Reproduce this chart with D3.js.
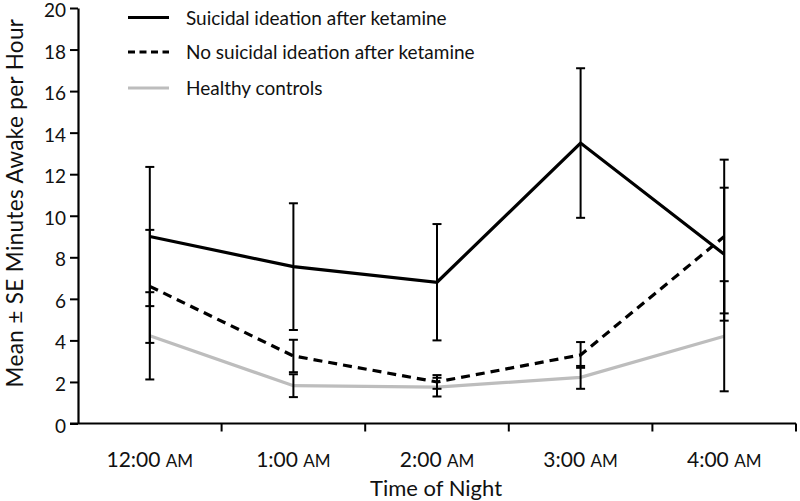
<!DOCTYPE html>
<html>
<head>
<meta charset="utf-8">
<script src="https://cdn.jsdelivr.net/npm/d3@7"></script>
<style>
  body { margin: 0; background: #fff; }
  svg { display: block; font-family: Lato, "Noto Sans", sans-serif; }
</style>
</head>
<body>
<svg id="chart" width="800" height="501"></svg>
<script>
const categories = ["12:00", "1:00", "2:00", "3:00", "4:00"];
const suffix = "AM";
const siMean = [9.0, 7.55, 6.8, 13.5, 8.15];
const siSE   = [3.35, 3.05, 2.8, 3.6, 3.2];
const noMean = [6.6, 3.25, 2.0, 3.3, 9.0];
const noSE   = [2.72, 0.78, 0.33, 0.62, 3.7];
const hcMean = [4.22, 1.82, 1.75, 2.22, 4.2];
const hcSE   = [2.1, 0.55, 0.45, 0.55, 2.65];
const seriesNames = ["Suicidal ideation after ketamine", "No suicidal ideation after ketamine", "Healthy controls"];
const yTicks = [0, 2, 4, 6, 8, 10, 12, 14, 16, 18, 20];

(function () {
const svg = d3.select("#chart");
const pLeft = 78, pRight = 796, pTop = 8, pBottom = 423.5;
const FONT = "Lato, 'Noto Sans', sans-serif";

const x = d3.scaleBand().domain(categories).range([pLeft, pRight]).padding(0);
const y = d3.scaleLinear().domain([0, 20]).range([pBottom, pTop]);

const series = [
  { name: seriesNames[0], mean: siMean, se: siSE, color: "#000", dash: null, legendDash: null },
  { name: seriesNames[1], mean: noMean, se: noSE, color: "#000", dash: "9,6", legendDash: "7,4.5" },
  { name: seriesNames[2], mean: hcMean, se: hcSE, color: "#bdbdbd", dash: null, legendDash: null }
];

// Y axis
const yAxis = d3.axisLeft(y).tickValues(yTicks).tickSize(8).tickSizeOuter(0).tickPadding(4);
const gy = svg.append("g").attr("transform", `translate(${pLeft},0)`).call(yAxis);
gy.select(".domain").attr("stroke-width", 2.2);
gy.selectAll(".tick line").attr("stroke-width", 2);
gy.selectAll(".tick text").attr("font-size", 19).attr("fill", "#111").attr("font-family", FONT).attr("dy", "0.45em");

// X axis
const gx = svg.append("g").attr("transform", `translate(0,${pBottom})`);
gx.append("line").attr("x1", pLeft - 8).attr("x2", pRight).attr("y1", 0).attr("y2", 0)
  .attr("stroke", "#000").attr("stroke-width", 2.2);
const bounds = categories.map(c => x(c) + x.bandwidth());
gx.selectAll(".btick").data(bounds).join("line")
  .attr("x1", d => d).attr("x2", d => d).attr("y1", 0).attr("y2", 8)
  .attr("stroke", "#000").attr("stroke-width", 2);
const xAxis = d3.axisBottom(x).tickSize(0).tickPadding(29);
const gxl = svg.append("g").attr("transform", `translate(0,${pBottom})`).call(xAxis);
gxl.select(".domain").remove();
gxl.selectAll(".tick text").each(function(d) {
  const t = d3.select(this);
  t.text(null).attr("font-size", 21).attr("fill", "#111").attr("font-family", FONT);
  t.append("tspan").text(d + " ");
  t.append("tspan").attr("font-size", 17).text(suffix);
});

// Axis titles
svg.append("text").attr("x", 436).attr("y", 496)
  .attr("text-anchor", "middle").attr("font-size", 22).attr("fill", "#111").text("Time of Night");
svg.append("text").attr("transform", `translate(22.5,203) rotate(-90)`)
  .attr("text-anchor", "middle").attr("font-size", 22.5).attr("letter-spacing", 0.35).attr("fill", "#111")
  .text("Mean \u00B1 SE Minutes Awake per Hour");

// Lines
const line = d3.line().x((d, i) => x(categories[i]) + x.bandwidth() / 2).y(d => y(d));
series.forEach(s => {
  svg.append("path").datum(s.mean).attr("d", line)
    .attr("fill", "none").attr("stroke", s.color).attr("stroke-width", 3.2)
    .attr("stroke-dasharray", s.dash);
});

// Error bars (black)
const cap = 4.5;
series.forEach(s => {
  const g = svg.append("g");
  s.mean.forEach((m, i) => {
    const cx = x(categories[i]) + x.bandwidth() / 2;
    const y1 = y(m + s.se[i]), y2 = y(m - s.se[i]);
    g.append("line").attr("x1", cx).attr("x2", cx).attr("y1", y1).attr("y2", y2)
      .attr("stroke", "#000").attr("stroke-width", 2);
    [y1, y2].forEach(yy => g.append("line").attr("x1", cx - cap).attr("x2", cx + cap)
      .attr("y1", yy).attr("y2", yy).attr("stroke", "#000").attr("stroke-width", 2));
  });
});

// Legend
const legY = [17.5, 52, 88];
series.forEach((s, i) => {
  svg.append("line").attr("x1", 128).attr("x2", 169).attr("y1", legY[i]).attr("y2", legY[i])
    .attr("stroke", s.color).attr("stroke-width", 3.2).attr("stroke-dasharray", s.legendDash);
  svg.append("text").attr("x", 186).attr("y", legY[i] + 7).attr("font-size", 19)
    .attr("fill", "#111").text(s.name);
});
})();
</script>
</body>
</html>
